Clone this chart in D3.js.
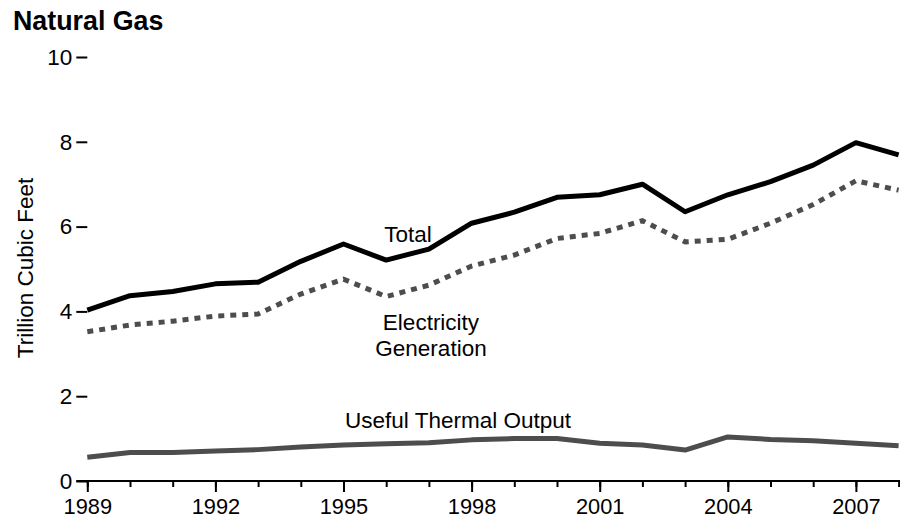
<!DOCTYPE html>
<html>
<head>
<meta charset="utf-8">
<script src="https://cdn.jsdelivr.net/npm/d3@7"></script>
<style>
  html, body { margin: 0; padding: 0; background: #fff; }
  svg text { font-family: "Liberation Sans", Arial, sans-serif; }
</style>
</head>
<body>
<svg id="chart" width="900" height="520"></svg>
<script>
const years = [1989,1990,1991,1992,1993,1994,1995,1996,1997,1998,1999,2000,2001,2002,2003,2004,2005,2006,2007,2008];
const totalValues = [4.03,4.37,4.47,4.65,4.69,5.18,5.59,5.21,5.47,6.08,6.34,6.69,6.75,7.00,6.35,6.75,7.06,7.45,7.98,7.69];
const electricityValues = [3.52,3.68,3.77,3.89,3.94,4.41,4.76,4.35,4.62,5.07,5.33,5.72,5.84,6.14,5.64,5.70,6.08,6.52,7.08,6.86];
const thermalValues = [0.56,0.67,0.67,0.71,0.74,0.80,0.85,0.88,0.90,0.97,1.00,1.00,0.89,0.85,0.73,1.04,0.98,0.95,0.89,0.83];
const yTickValues = [0,2,4,6,8,10];
const xMajorTicks = [1989,1992,1995,1998,2001,2004,2007];
const titleText = "Natural Gas";
const yAxisTitle = "Trillion Cubic Feet";
const seriesLabels = { total: ["Total"], elec: ["Electricity","Generation"], thermal: ["Useful Thermal Output"] };

const svg = d3.select("#chart");
const x = d3.scaleLinear().domain([1989, 2008]).range([87.3, 898.6]);
const y = d3.scaleLinear().domain([0, 10]).range([481, 57]);
const FONT = "'Liberation Sans', Arial, sans-serif";

// Title
svg.append("text").attr("x", 13).attr("y", 30)
  .attr("font-size", 26.8).attr("font-weight", "bold").attr("fill", "#000")
  .text(titleText);

// Y axis title
svg.append("text")
  .attr("transform", `translate(33,268) rotate(-90)`)
  .attr("text-anchor", "middle").attr("font-size", 22.5).attr("fill", "#000")
  .text(yAxisTitle);

// Y axis (ticks only)
const yAxis = svg.append("g").attr("transform", `translate(${x(1989)},0)`)
  .call(d3.axisLeft(y).tickValues(yTickValues).tickSize(11).tickPadding(4).tickFormat(d3.format("d")));
yAxis.select(".domain").remove();
yAxis.selectAll(".tick line").attr("stroke", "#000").attr("stroke-width", 2);
yAxis.selectAll(".tick text").attr("font-size", 22.5).attr("fill", "#000").attr("font-family", FONT);

// X axis minor ticks
const xMinor = svg.append("g").attr("transform", `translate(0,${y(0)})`)
  .call(d3.axisBottom(x).tickValues(years).tickSize(6).tickFormat(""));
xMinor.select(".domain").remove();
xMinor.selectAll(".tick line").attr("stroke", "#000").attr("stroke-width", 2);

// X axis major ticks
const xAxis = svg.append("g").attr("transform", `translate(0,${y(0)})`)
  .call(d3.axisBottom(x).tickValues(xMajorTicks).tickSize(11).tickPadding(7).tickFormat(d3.format("d")));
xAxis.select(".domain").remove();
xAxis.selectAll(".tick line").attr("stroke", "#000").attr("stroke-width", 2);
xAxis.selectAll(".tick text").attr("font-size", 21.8).attr("fill", "#000").attr("font-family", FONT);

// X axis baseline
svg.append("line")
  .attr("x1", x(1989) - 11).attr("x2", 900)
  .attr("y1", y(0)).attr("y2", y(0))
  .attr("stroke", "#000").attr("stroke-width", 2);

const line = d3.line().x(d => x(d[0])).y(d => y(d[1]));
const zip = vals => years.map((yr, i) => [yr, vals[i]]);

svg.append("path").datum(zip(thermalValues)).attr("d", line)
  .attr("fill", "none").attr("stroke", "#4d4d4d").attr("stroke-width", 5)
  .attr("stroke-linejoin", "round");

svg.append("path").datum(zip(electricityValues)).attr("d", line)
  .attr("fill", "none").attr("stroke", "#4d4d4d").attr("stroke-width", 5)
  .attr("stroke-dasharray", "6,6");

svg.append("path").datum(zip(totalValues)).attr("d", line)
  .attr("fill", "none").attr("stroke", "#000").attr("stroke-width", 5)
  .attr("stroke-linejoin", "round");

// Annotations
svg.append("text").attr("x", 408).attr("y", 242).attr("text-anchor", "middle")
  .attr("font-size", 22.5).attr("fill", "#000").text(seriesLabels.total[0]);
seriesLabels.elec.forEach((t, i) => {
  svg.append("text").attr("x", 431).attr("y", 330 + i * 26).attr("text-anchor", "middle")
    .attr("font-size", 22.5).attr("fill", "#000").text(t);
});
svg.append("text").attr("x", 458).attr("y", 428).attr("text-anchor", "middle")
  .attr("font-size", 22.5).attr("fill", "#000").text(seriesLabels.thermal[0]);
</script>
</body>
</html>
